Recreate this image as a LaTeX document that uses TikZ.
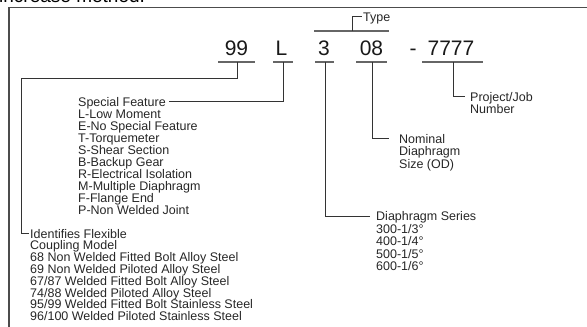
\documentclass[tikz,border=0pt]{standalone}
\usepackage{fontspec}
\setmainfont{Liberation Sans}
\begin{document}
\begin{tikzpicture}[x=1pt,y=-1pt,
  lbl/.style={inner sep=0pt, font=\fontsize{12.5}{14}\selectfont, text=black!85, anchor=base west},
  hd/.style={lbl, text height=8.9pt, text depth=0pt},
  big/.style={inner sep=0pt, font=\fontsize{21}{24}\selectfont, anchor=base, text=black!90},
  uline/.style={line width=2pt, draw=black!60},
  conn/.style={line width=0.9pt, draw=black!80},
  frame/.style={line width=1.3pt, draw=black!70}]
\useasboundingbox (0,0) rectangle (587,327);
\clip (0,0) rectangle (587,327);
% cut-off heading at top
\node[inner sep=0pt, anchor=base west, font=\fontsize{19}{22}\selectfont] (head) at (-1,2) {increase method.};
% frame
\coordinate (fTL) at (9,7.5);
\coordinate (fTR) at (600,7.5);
\coordinate (fBL) at (9,340);
\draw[frame] (fBL) -- (fTL) -- (fTR);
% big code
\node[big] (n99) at (236.5,55) {99};
\node[big] (nL) at (281.5,55) {L};
\node[big] (n3) at (324,55) {3};
\node[big] (n08) at (371.5,55) {08};
\node[big] (ndash) at (413,55) {-};
\node[big] (n7777) at (451,55) {7777};
% underlines
\coordinate (a99) at (218,62.3); \coordinate (b99) at (255,62.3);
\coordinate (aL) at (273,62.3); \coordinate (bL) at (293,62.3);
\coordinate (a3) at (315,62.3); \coordinate (b3) at (334,62.3);
\coordinate (a08) at (356,62.3); \coordinate (b08) at (387,62.3);
\coordinate (a77) at (422,62.3); \coordinate (b77) at (483,62.3);
\draw[uline] (a99) -- (b99);
\draw[uline] (aL) -- (bL);
\draw[uline] (a3) -- (b3);
\draw[uline] (a08) -- (b08);
\draw[uline] (a77) -- (b77);
% type bracket
\coordinate (tA) at (314,31); \coordinate (tB) at (389,31);
\coordinate (tM) at (352,31);
\draw[uline] (tA) -- (tB);
\node[hd] (type) at (363,21) {Type};
\draw[conn] (tM) |- ([xshift=-1pt]type.west);
% connector start points
\coordinate (s99) at (237,62.3);
\coordinate (sL) at (283,62.3);
\coordinate (s3) at (325,62.3);
\coordinate (s08) at (372,62.3);
\coordinate (s77) at (453,62.3);
\coordinate (k99) at (21,78);
% Special feature
\node[hd] (sf) at (78,106) {Special Feature};
\foreach \t [count=\i] in {L-Low Moment, E-No Special Feature, T-Torquemeter, S-Shear Section, B-Backup Gear, R-Electrical Isolation, M-Multiple Diaphragm, F-Flange End, P-Non Welded Joint}
  \node[lbl] (sf-\i) at (78,106+\i*12.1) {\t};
\draw[conn, shorten >=3pt] (sL) |- (sf.east);
% Identifies
\node[hd] (ident) at (30,238) {Identifies Flexible};
\foreach \t [count=\i] in {Coupling Model, 68 Non Welded Fitted Bolt Alloy Steel, 69 Non Welded Piloted Alloy Steel, 67/87 Welded Fitted Bolt Alloy Steel, 74/88 Welded Piloted Alloy Steel, 95/99 Welded Fitted Bolt Stainless Steel, 96/100 Welded Piloted Stainless Steel}
  \node[lbl] (id-\i) at (30,238+\i*11.8) {\t};
\draw[conn, shorten >=1pt] (s99) |- (k99) |- (ident.west);
% Diaphragm series
\node[hd] (ds) at (376,220.5) {Diaphragm Series};
\foreach \t [count=\i] in {300-1/3°, 400-1/4°, 500-1/5°, 600-1/6°}
  \node[lbl] (ds-\i) at (376,220.5+\i*12.6) {\t};
\draw[conn, shorten >=6pt] (s3) |- (ds.west);
% Nominal
\node[hd] (nom) at (399,143) {Nominal};
\foreach \t [count=\i] in {Diaphragm, Size (OD)}
  \node[lbl] (nom-\i) at (399,143+\i*12.5) {\t};
\draw[conn, shorten >=10pt] (s08) |- (nom.west);
% Project
\node[hd] (pj) at (470,101) {Project/Job};
\node[lbl] (pj-1) at (470,113.7) {Number};
\draw[conn, shorten >=5pt] (s77) |- (pj.west);
\end{tikzpicture}
\end{document}
